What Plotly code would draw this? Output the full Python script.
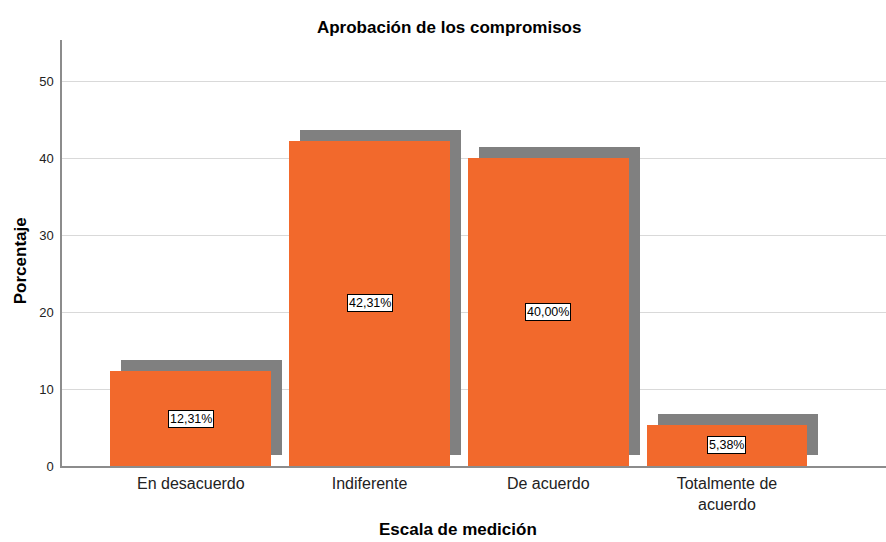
import plotly.graph_objects as go

categories = ["En desacuerdo", "Indiferente", "De acuerdo", "Totalmente de acuerdo"]
tick_labels = ["En desacuerdo", "Indiferente", "De acuerdo", "Totalmente de<br>acuerdo"]
values = [12.31, 42.31, 40.00, 5.38]
label_texts = ["12,31%", "42,31%", "40,00%", "5,38%"]

ORANGE = "#F2692C"
SHADOW = "#808080"
BAR_W = 0.9
SHADOW_DX = 0.0616
SHADOW_DY = 1.43
FONT = "Arial, Liberation Sans, sans-serif"

fig = go.Figure()
fig.add_trace(go.Bar(
    x=categories, y=values, base=[SHADOW_DY] * len(values),
    width=BAR_W, offset=-BAR_W / 2 + SHADOW_DX,
    marker=dict(color=SHADOW, line=dict(width=0)), hoverinfo="skip", showlegend=False,
))
fig.add_trace(go.Bar(
    x=categories, y=values,
    width=BAR_W, offset=-BAR_W / 2,
    marker=dict(color=ORANGE, line=dict(width=0)), showlegend=False,
))

for c, v, t in zip(categories, values, label_texts):
    fig.add_annotation(
        x=c, y=v / 2, text=t, showarrow=False,
        font=dict(family=FONT, size=12.5, color="black"),
        bgcolor="white", bordercolor="black", borderwidth=1, borderpad=1,
    )

# axis titles
fig.add_annotation(text="<b>Escala de medición</b>", xref="paper", yref="paper",
                   x=(458 - 62) / 824, y=-(530 - 466) / 426.5, showarrow=False,
                   xanchor="center", yanchor="middle",
                   font=dict(family=FONT, size=17, color="black"))
fig.add_annotation(text="<b>Porcentaje</b>", xref="paper", yref="paper",
                   x=-(62 - 20) / 824, y=(466 - 261) / 426.5, showarrow=False,
                   xanchor="center", yanchor="middle", textangle=-90,
                   font=dict(family=FONT, size=17, color="black"))

fig.update_layout(
    width=886, height=542,
    margin=dict(l=62, r=0, t=40, b=76, autoexpand=False),
    paper_bgcolor="white", plot_bgcolor="white",
    barmode="overlay", bargap=0,
    font=dict(family=FONT, color="#222"),
    title=dict(text="<b>Aprobación de los compromisos</b>", x=0.507, xanchor="center",
               y=1 - 27 / 542, yanchor="middle", font=dict(size=17, color="black")),
    xaxis=dict(
        type="category", range=[-0.721, 3.89], automargin=False,
        tickmode="array", tickvals=categories, ticktext=tick_labels,
        tickfont=dict(size=16, color="#222"),
        showline=True, linecolor="#8c8c8c", linewidth=2,
        showgrid=False, ticks="outside", ticklen=2, tickcolor="white",
    ),
    yaxis=dict(
        range=[0, 55.39], tickvals=[0, 10, 20, 30, 40, 50], automargin=False,
        tickfont=dict(size=13, color="#222"),
        showline=True, linecolor="#8c8c8c", linewidth=1.5,
        showgrid=True, gridcolor="#d9d9d9", gridwidth=1,
        zeroline=False, ticks="outside", ticklen=4, tickcolor="white",
    ),
)

fig.write_html("out.html", config={"displayModeBar": False},
               post_script="document.body.style.margin='0';document.body.style.overflow='hidden';")
